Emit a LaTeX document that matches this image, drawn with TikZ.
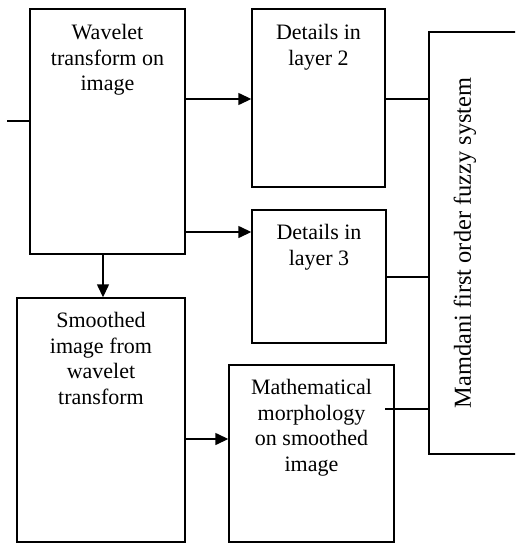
\documentclass[tikz,border=0pt]{standalone}
\usepackage{fontspec}
\setmainfont{Liberation Serif}
\usetikzlibrary{arrows.meta}
\begin{document}
\begin{tikzpicture}[x=1pt,y=-1pt,
  box/.style={draw, line width=1.4pt, inner sep=0pt},
  tx/.style={font=\fontsize{22}{25.5}\selectfont, align=center, inner sep=0pt, anchor=north, yshift=-16pt},
  arr/.style={line width=1.4pt, -{Triangle[length=13pt,width=12pt]}},
  conn/.style={line width=1.4pt}]
\useasboundingbox (0,0) rectangle (515,543);
\clip (0,0) rectangle (515,543);
\node[box, minimum width=155pt, minimum height=245pt,
  label={[tx]north:Wavelet\\transform on\\image}] (w) at (107.5,131.5) {};
\node[box, minimum width=133pt, minimum height=178pt,
  label={[tx]north:Details in\\layer 2}] (d2) at (318.5,98) {};
\node[box, minimum width=134pt, minimum height=133pt,
  label={[tx, yshift=1pt]north:Details in\\layer 3}] (d3) at (319,276.5) {};
\node[box, minimum width=168pt, minimum height=244pt,
  label={[tx, yshift=1pt]north:Smoothed\\image from\\wavelet\\transform}] (s) at (101,420) {};
\node[box, minimum width=165pt, minimum height=177pt,
  label={[tx, yshift=1pt]north:Mathematical\\morphology\\on smoothed\\image}] (m) at (311.5,453.5) {};
\node[box, minimum width=111pt, minimum height=422pt] (f) at (484.5,243) {};
\node[rotate=90, font=\fontsize{24.4}{28}\selectfont, inner sep=0pt] (fl) at (465,243) {Mamdani first order fuzzy system};
\coordinate (in) at (7,121);
\coordinate (mout) at (385,409);
\draw[conn] (in) -- (in -| w.west);
\draw[arr] (w.east |- 0,99) -- (d2.west |- 0,99);
\draw[arr] (w.east |- 0,232) -- (d3.west |- 0,232);
\draw[arr] (w.south -| 103,0) -- (s.north -| 103,0);
\draw[arr] (s.east |- 0,439) -- (m.west |- 0,439);
\draw[conn] (d2.east |- 0,99) -- (f.west |- 0,99);
\draw[conn] (d3.east |- 0,277) -- (f.west |- 0,277);
\draw[conn] (mout) -- (mout -| f.west);
\end{tikzpicture}
\end{document}
